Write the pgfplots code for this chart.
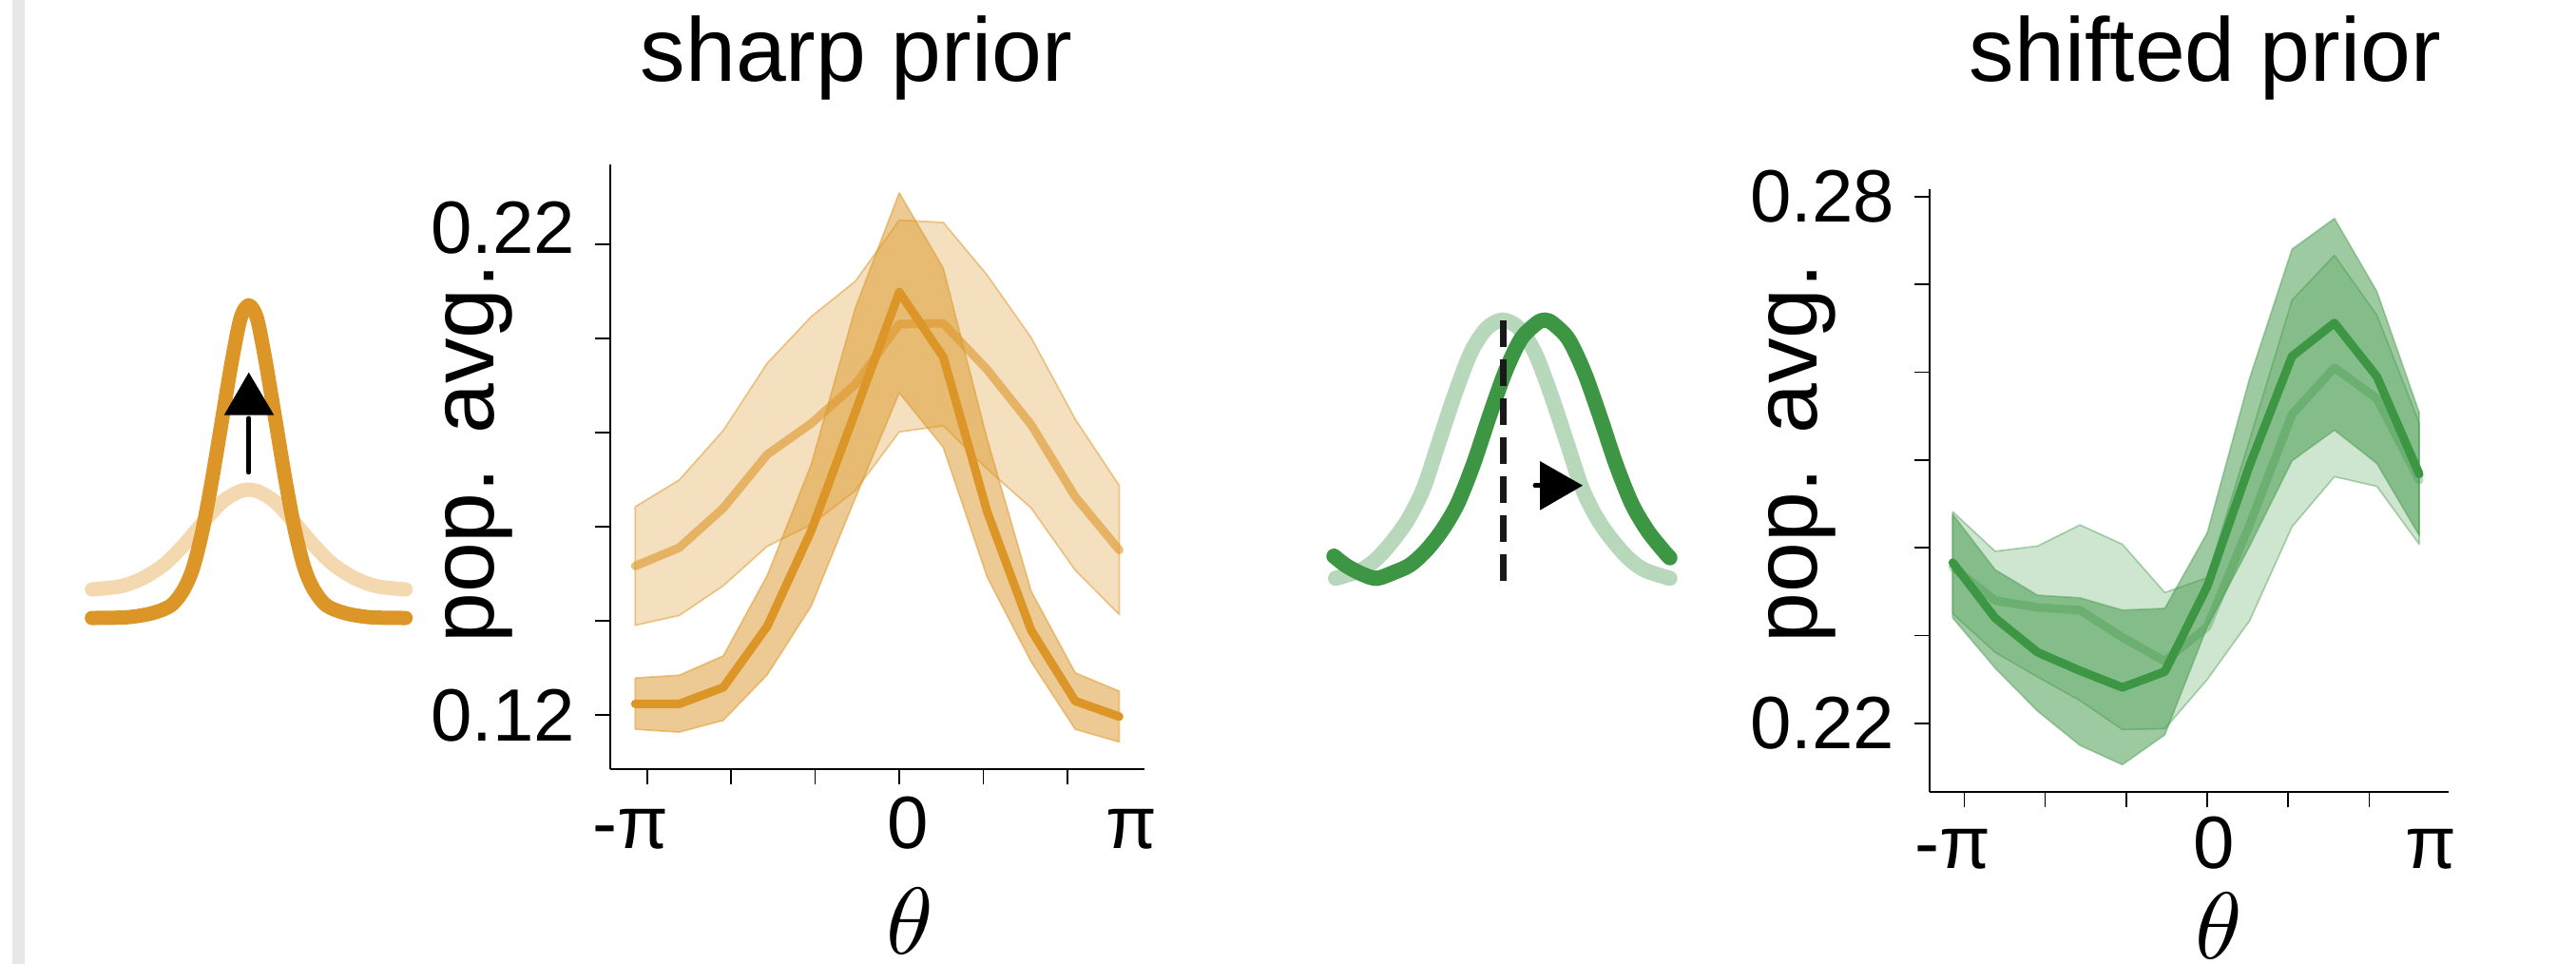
\documentclass[border=0pt]{standalone}
\usepackage{fontspec}
\setmainfont{Liberation Sans}
\usepackage{pgfplots}
\pgfplotsset{compat=1.18}
\definecolor{dorange}{HTML}{DC9628}
\definecolor{dgreen}{HTML}{3D9644}
\definecolor{lorangeicon}{HTML}{F3D8B0}
\definecolor{lgreenicon}{HTML}{B8D8BC}
\definecolor{greybar}{HTML}{E7E7E7}
\pgfplotsset{
  panel/.style={
    scale only axis,
    axis x line*=bottom, axis y line*=left,
    axis line style={line width=0.2bp, black},
    tick align=outside, major tick length=1.6bp,
    tick style={line width=0.17bp, black},
    xtick={-3,-2,-1,0,1,2}, xticklabels={},
    extra x tick labels={-π,0,π},
    ticklabel style={font=\fontsize{7.8bp}{9bp}\selectfont, inner sep=0pt},
    yticklabel style={xshift=-1.9bp},
    title style={anchor=base, yshift=0pt, font=\fontsize{9.5bp}{11bp}\selectfont, inner sep=0pt},
    ylabel style={anchor=base, font=\fontsize{9.5bp}{11bp}\selectfont, inner sep=0pt},
    xlabel style={anchor=base, font=\fontsize{10.35bp}{12bp}\selectfont, inner sep=0pt},
    clip=false,
  },
  meanline/.style={line width=0.9bp, line join=round, line cap=round},
  bandedge/.style={line width=0.17bp, line join=round},
}
\begin{document}
\begin{tikzpicture}
\useasboundingbox (0,0) rectangle (271bp,101.4bp);
\clip (0,0) rectangle (271bp,101.4bp);
% ---------- icons (pixel coordinates) ----------
\begin{axis}[at={(0,0)}, anchor=south west, width=271bp, height=101.4bp, scale only axis,
  xmin=0, xmax=2710, ymin=0, ymax=1014, y dir=reverse, axis lines=none, ticks=none, clip=false]
\fill[greybar] (axis cs:12.7,0) rectangle (axis cs:26,1014);
% broad prior (light orange)
\addplot[lorangeicon, line width=1.5bp, line cap=round, smooth] coordinates {
(96.7,620) (126.7,616.7) (150,608.3) (173.3,593.3) (193.3,573.3) (213.3,550) (233.3,528.3) (250,517.7) (261.7,515)
(273.3,517.7) (290,528.3) (310,550) (330,573.3) (350,593.3) (373.3,608.3) (396.7,616.7) (426.7,620)};
% sharp prior (dark orange)
\addplot[dorange, line width=1.5bp, line cap=round, line join=round, smooth] coordinates {
(96.7,650) (133.3,649.3) (160,645) (180,636.7) (193.3,620) (203.3,596.7) (213.3,556.7) (223.3,503.3) (233.3,443.3) (243.3,383.3) (251.7,340) (256.7,326) (261.7,321)
(266.7,326) (271.7,340) (280,383.3) (290,443.3) (300,503.3) (310,556.7) (320,596.7) (330,620) (343.3,636.7) (363.3,645) (390,649.3) (426.7,650)};
\draw[black, line width=0.5bp, line cap=round] (axis cs:261.7,496.7) -- (axis cs:261.7,440);
\fill[black] (axis cs:235.7,436.7) -- (axis cs:288.3,436.7) -- (axis cs:261.7,391.7) -- cycle;
% baseline prior (light green)
\addplot[lgreenicon, line width=1.6bp, line cap=round, smooth] coordinates {
(1405,608.3) (1431,600) (1447.7,588.3) (1464.3,570) (1481,546.7) (1497.7,513.3) (1514.3,463.3) (1531,413.3) (1547.7,370) (1564.3,345) (1581,336.7)
(1597.7,345) (1614.3,370) (1631,413.3) (1647.7,463.3) (1664.3,513.3) (1681,546.7) (1697.7,570) (1714.3,588.3) (1731,600) (1756.7,608.3)};
% shifted prior (dark green)
\addplot[dgreen, line width=1.6bp, line cap=round, smooth] coordinates {
(1403.3,585) (1416.7,595.3) (1433.3,604) (1448.3,608.3) (1466.7,602) (1483.3,594.3) (1500,579.3) (1516.7,558.3) (1533.3,530) (1550,488.3) (1566.7,438.3) (1583.3,391.7) (1600,356.7) (1616.7,340) (1625,336.7)
(1633.3,340) (1650,356.7) (1666.7,391.7) (1683.3,438.3) (1700,488.3) (1716.7,530) (1733.3,558.3) (1750,579.3) (1756.7,586.7)};
\draw[black!90, line width=0.7bp, dash pattern=on 2.8bp off 1.3bp] (axis cs:1581,336.7) -- (axis cs:1581,617);
\draw[black, line width=0.5bp, line cap=round] (axis cs:1615,510.7) -- (axis cs:1622,510.7);
\fill[black] (axis cs:1620,485) -- (axis cs:1620,536.7) -- (axis cs:1665,510.7) -- cycle;
\end{axis}
% ---------- sharp prior ----------
\begin{axis}[panel, at={(64.23bp,20.47bp)}, anchor=south west, width=56.2bp, height=63.6bp,
  xmin=-3.436, xmax=2.922, ymin=0.10848, ymax=0.23697,
  extra x ticks={-3.20,0.10,2.76},
  extra x tick style={major tick length=0pt, xticklabel style={anchor=base, yshift=-8.3bp}},
  ytick={0.12,0.14,0.16,0.18,0.20,0.22}, yticklabels={0.12,,,,,\raisebox{3.6bp}{0.22}},
  title={sharp prior}, title style={at={(axis description cs:0.460,1.0445)}},
  ylabel={pop. avg.}, ylabel style={at={(axis description cs:-0.2176,0.5225)}},
  xlabel={$\theta$}, xlabel style={at={(axis description cs:0.560,-0.3061)}},
]
\addplot[bandedge, fill=dorange, fill opacity=0.3, draw=dorange, draw opacity=0.5] coordinates {
(-3.1416,0.1643) (-2.618,0.1700) (-2.0944,0.1805) (-1.5708,0.1948) (-1.0472,0.2047) (-0.5236,0.2122) (0,0.2252) (0.5236,0.2247) (1.0472,0.2135) (1.5708,0.2002) (2.0944,0.1829) (2.618,0.1688)
(2.618,0.1414) (2.0944,0.1508) (1.5708,0.1640) (1.0472,0.1723) (0.5236,0.1815) (0,0.1802) (-0.5236,0.1677) (-1.0472,0.1605) (-1.5708,0.1559) (-2.0944,0.1475) (-2.618,0.1412) (-3.1416,0.1391)} -- cycle;
\addplot[bandedge, fill=dorange, fill opacity=0.5, draw=dorange, draw opacity=0.5] coordinates {
(-3.1416,0.1279) (-2.618,0.1285) (-2.0944,0.1326) (-1.5708,0.1497) (-1.0472,0.1733) (-0.5236,0.2065) (0,0.2310) (0.5236,0.2150) (1.0472,0.1786) (1.5708,0.1463) (2.0944,0.1290) (2.618,0.1251)
(2.618,0.1143) (2.0944,0.1170) (1.5708,0.1313) (1.0472,0.1493) (0.5236,0.1769) (0,0.1885) (-0.5236,0.1661) (-1.0472,0.1432) (-1.5708,0.1286) (-2.0944,0.1189) (-2.618,0.1164) (-3.1416,0.1170)} -- cycle;
\addplot[meanline, dorange, opacity=0.6] coordinates {
(-3.1416,0.1517) (-2.618,0.1556) (-2.0944,0.1640) (-1.5708,0.1754) (-1.0472,0.1820) (-0.5236,0.1903) (0,0.2031) (0.5236,0.2033) (1.0472,0.1934) (1.5708,0.1817) (2.0944,0.1664) (2.618,0.1551)};
\addplot[meanline, dorange] coordinates {
(-3.1416,0.1224) (-2.618,0.1224) (-2.0944,0.1259) (-1.5708,0.1389) (-1.0472,0.1592) (-0.5236,0.1844) (0,0.2099) (0.5236,0.1961) (1.0472,0.1632) (1.5708,0.1380) (2.0944,0.1230) (2.618,0.1197)};
\end{axis}
% ---------- shifted prior ----------
\begin{axis}[panel, at={(203.0bp,18.07bp)}, anchor=south west, width=54.6bp, height=63.4bp,
  xmin=-3.427, xmax=2.981, ymin=0.21217, ymax=0.2808,
  extra x ticks={-3.146,0.08,2.76},
  extra x tick style={major tick length=0pt, xticklabel style={anchor=base, yshift=-8.0bp}},
  ytick={0.22,0.23,0.24,0.25,0.26,0.27,0.28}, yticklabels={0.22,,,,,,0.28},
  title={shifted prior}, title style={at={(axis description cs:0.531,1.0857)}},
  ylabel={pop. avg.}, ylabel style={at={(axis description cs:-0.2167,0.5625)}},
  xlabel={$\theta$}, xlabel style={at={(axis description cs:0.5568,-0.2771)}, font=\fontsize{9.8bp}{11bp}\selectfont},
]
\addplot[bandedge, fill=dgreen, fill opacity=0.25, draw=dgreen, draw opacity=0.4] coordinates {
(-3.1416,0.2441) (-2.618,0.2396) (-2.0944,0.2402) (-1.5708,0.2426) (-1.0472,0.2404) (-0.5236,0.2349) (0,0.2366) (0.5236,0.2523) (1.0472,0.2682) (1.5708,0.2733) (2.0944,0.2665) (2.618,0.2542)
(2.618,0.2404) (2.0944,0.2470) (1.5708,0.2481) (1.0472,0.2424) (0.5236,0.2317) (0,0.2250) (-0.5236,0.2194) (-1.0472,0.2193) (-1.5708,0.2226) (-2.0944,0.2253) (-2.618,0.2281) (-3.1416,0.2325)} -- cycle;
\addplot[bandedge, fill=dgreen, fill opacity=0.5, draw=dgreen, draw opacity=0.4] coordinates {
(-3.1416,0.2438) (-2.618,0.2375) (-2.0944,0.2346) (-1.5708,0.2343) (-1.0472,0.2329) (-0.5236,0.2331) (0,0.2417) (0.5236,0.2593) (1.0472,0.2740) (1.5708,0.2775) (2.0944,0.2692) (2.618,0.2554)
(2.618,0.2414) (2.0944,0.2496) (1.5708,0.2534) (1.0472,0.2499) (0.5236,0.2402) (0,0.2310) (-0.5236,0.2187) (-1.0472,0.2153) (-1.5708,0.2175) (-2.0944,0.2214) (-2.618,0.2263) (-3.1416,0.2320)} -- cycle;
\addplot[meanline, dgreen, opacity=0.35] coordinates {
(-3.1416,0.2378) (-2.618,0.2340) (-2.0944,0.2332) (-1.5708,0.2329) (-1.0472,0.2298) (-0.5236,0.2271) (0,0.2310) (0.5236,0.2426) (1.0472,0.2552) (1.5708,0.2605) (2.0944,0.2570) (2.618,0.2477)};
\addplot[meanline, dgreen] coordinates {
(-3.1416,0.2383) (-2.618,0.2320) (-2.0944,0.2281) (-1.5708,0.2260) (-1.0472,0.2241) (-0.5236,0.2259) (0,0.2356) (0.5236,0.2494) (1.0472,0.2618) (1.5708,0.2656) (2.0944,0.2595) (2.618,0.2484)};
\end{axis}
\end{tikzpicture}
\end{document}
